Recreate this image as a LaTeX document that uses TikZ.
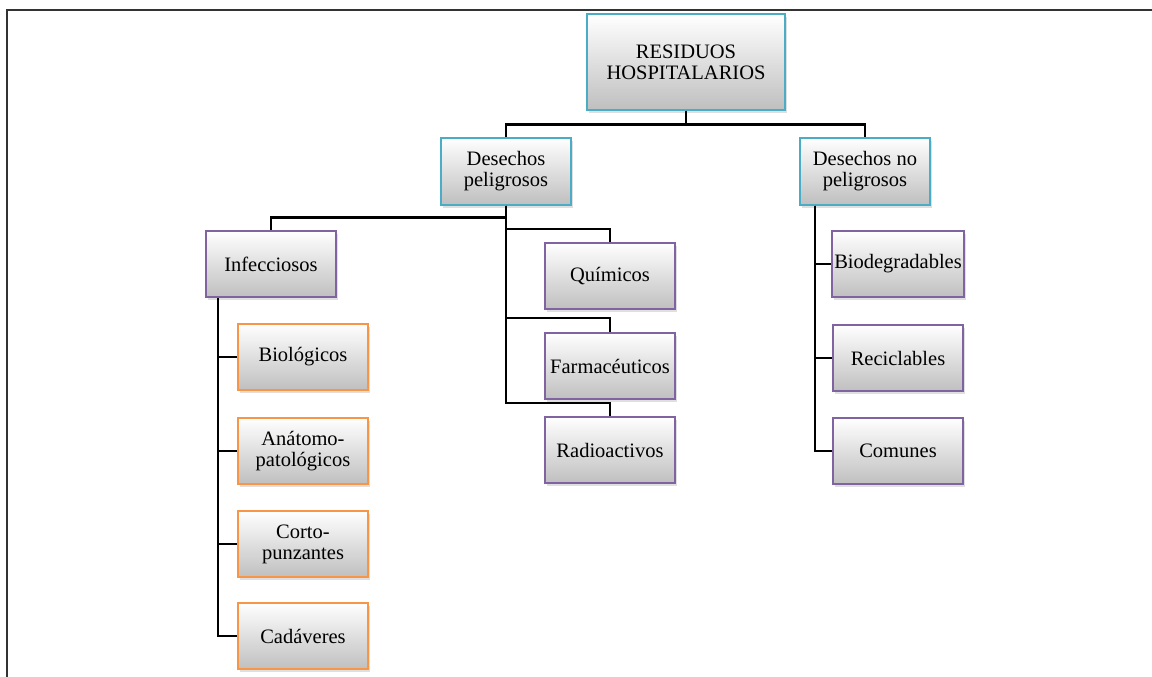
\documentclass[tikz,border=0pt]{standalone}
\usepackage{fontspec}
\setmainfont{Liberation Serif}
\usetikzlibrary{shadows}
\definecolor{accblue}{HTML}{4BACC6}
\definecolor{accpurple}{HTML}{8064A2}
\definecolor{accorange}{HTML}{F79646}
\begin{document}
\begin{tikzpicture}[
    x=1pt,y=-1pt,
    box/.style={draw,line width=2pt,align=center,inner sep=2pt,
        minimum width=130pt,minimum height=66pt,
        top color=white,bottom color=black!25,
        drop shadow={shadow xshift=2pt,shadow yshift=-3pt,opacity=0.25},
        font=\fontsize{20.5}{21}\selectfont},
    main/.style={box,draw=accblue},
    sub/.style={box,draw=accpurple},
    leaf/.style={box,draw=accorange},
    link/.style={line width=2.2pt}
]
\useasboundingbox (0,0) rectangle (1152,677);
\draw[line width=2pt,black!80] (1152,10) -- (6.5,10) -- (6.5,677);

\node[main,minimum width=198pt,minimum height=95pt] (top) at (686,62) {RESIDUOS\\HOSPITALARIOS};
\node[main,minimum height=67pt] (pel) at (506,171) {Desechos\\peligrosos};
\node[main,minimum height=67pt] (nopel) at (865,171) {Desechos no\\peligrosos};

\node[sub] (inf) at (271,264) {Infecciosos};
\node[sub] (qui) at (610,276) {Químicos};
\node[sub] (farm) at (610,366) {Farmacéuticos};
\node[sub] (radio) at (610,450) {Radioactivos};

\node[leaf] (bio) at (303,357) {Biológicos};
\node[leaf] (anat) at (303,451) {Anátomo-\\patológicos};
\node[leaf] (corto) at (303,544) {Corto-\\punzantes};
\node[leaf] (cad) at (303,636) {Cadáveres};

\node[sub] (biod) at (898,264) {Biodegradables};
\node[sub] (recic) at (898,358) {Reciclables};
\node[sub] (comun) at (898,451) {Comunes};

\draw[link] (top.south) -- ++(0,14) -| (pel.north);
\draw[link] (top.south) -- ++(0,14) -| (nopel.north);
\draw[link] (pel.south) -- ++(0,12) -| (inf.north);
\draw[link] (pel.south) |- ([yshift=13pt]qui.north) -- (qui.north);
\draw[link] (pel.south) |- ([yshift=14pt]farm.north) -- (farm.north);
\draw[link] (pel.south) |- ([yshift=13pt]radio.north) -- (radio.north);
\foreach \n in {bio,anat,corto,cad}
    \draw[link] ([xshift=-53pt]inf.south) |- (\n.west);
\foreach \n in {biod,recic,comun}
    \draw[link] ([xshift=-50pt]nopel.south) |- (\n.west);
\end{tikzpicture}
\end{document}
